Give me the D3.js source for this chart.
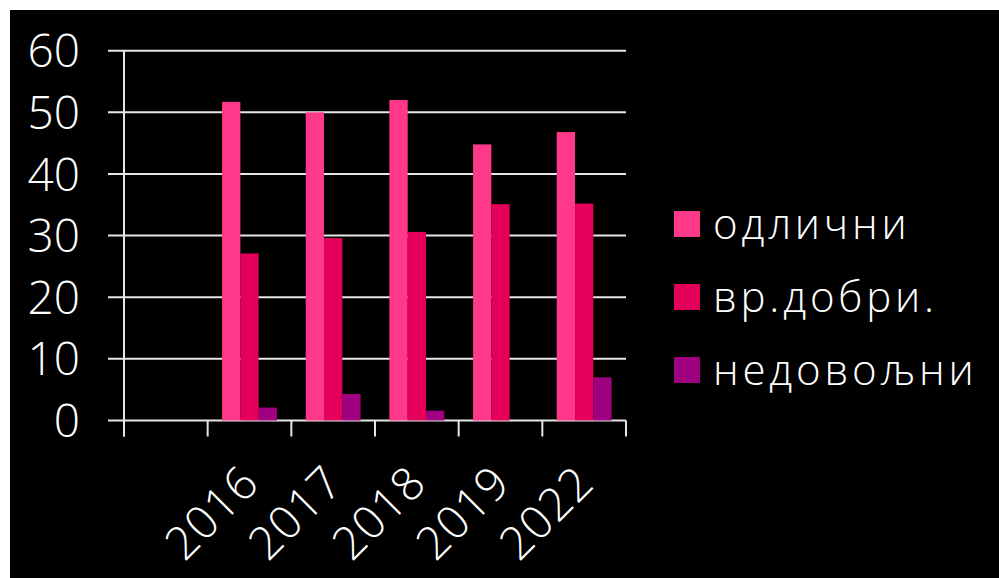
<!DOCTYPE html>
<html><head><meta charset="utf-8">
<script src="https://cdn.jsdelivr.net/npm/d3@7"></script>
<style>body{margin:0;background:#fff}svg{display:block}</style>
</head><body>
<script>
const categories = ["", "2016", "2017", "2018", "2019", "2022"];
const seriesNames = ["одлични", "вр.добри.", "недовољни"];
const odlicni   = [null, 51.7, 50.0, 52.0, 44.8, 46.8];
const vrDobri   = [null, 27.1, 29.6, 30.6, 35.1, 35.2];
const nedovoljni= [null, 2.1, 4.3, 1.6, 0, 7.0];
const yTicks = [0, 10, 20, 30, 40, 50, 60];
const colors = ["#FF3889", "#E4005A", "#9E0080"];

(function () {
const W = 999, H = 578;
const font = "'Open Sans', 'DejaVu Sans', sans-serif";
const svg = d3.select("body").append("svg").attr("width", W).attr("height", H);
svg.append("rect").attr("x", 10).attr("y", 10).attr("width", W - 10).attr("height", H - 10).attr("fill", "#000");

const pLeft = 124, pRight = 626, pTop = 50.7, pBottom = 420.5;
const x0 = d3.scaleBand().domain(categories).range([pLeft, pRight]).padding(0);
const bw = x0.bandwidth();
const x1 = d3.scaleBand().domain(seriesNames).range([bw * 0.172, bw * 0.828]).padding(0);
const y = d3.scaleLinear().domain([0, 60]).range([pBottom, pTop]);

svg.append("g").selectAll("line").data(yTicks).join("line")
  .attr("x1", pLeft - 16).attr("x2", pRight)
  .attr("y1", d => y(d)).attr("y2", d => y(d))
  .attr("stroke", "#e6e6e6").attr("stroke-width", 2);

svg.append("line").attr("x1", pLeft).attr("x2", pLeft).attr("y1", pTop).attr("y2", pBottom + 16)
  .attr("stroke", "#e6e6e6").attr("stroke-width", 2);

const bounds = categories.map(c => x0(c)).concat([pRight]);
svg.append("g").selectAll("line").data(bounds).join("line")
  .attr("x1", d => d).attr("x2", d => d).attr("y1", pBottom).attr("y2", pBottom + 16)
  .attr("stroke", "#e6e6e6").attr("stroke-width", 2);

svg.append("g").selectAll("text").data(yTicks).join("text")
  .attr("x", 80).attr("y", d => y(d)).attr("dy", "0.36em")
  .attr("text-anchor", "end").attr("fill", "#fff")
  .style("font-family", font).style("font-weight", 300).style("font-size", "46px")
  .text(d => d);

const series = [odlicni, vrDobri, nedovoljni];
series.forEach((vals, si) => {
  svg.append("g").selectAll("rect")
    .data(categories.map((c, i) => ({c, v: vals[i]})).filter(d => d.v !== null && d.v > 0))
    .join("rect")
    .attr("x", d => x0(d.c) + x1(seriesNames[si]))
    .attr("width", x1.bandwidth())
    .attr("y", d => y(d.v))
    .attr("height", d => y(0) - y(d.v))
    .attr("fill", colors[si]);
});

svg.append("g").selectAll("text").data(categories.filter(c => c !== "")).join("text")
  .attr("transform", c => `translate(${x0(c) + bw / 2 + 12},${pBottom + 65}) rotate(-45)`)
  .attr("text-anchor", "end").attr("fill", "#fff")
  .style("font-family", font).style("font-weight", 300).style("font-size", "46px")
  .style("letter-spacing", "1px")
  .text(c => c);

const lg = svg.append("g").attr("transform", "translate(674,211)");
seriesNames.forEach((n, i) => {
  lg.append("rect").attr("x", 0).attr("y", i * 73).attr("width", 26).attr("height", 26).attr("fill", colors[i]);
  lg.append("text").attr("x", 39).attr("y", i * 73 + 13).attr("dy", "0.36em")
    .attr("fill", "#fff").style("font-family", font).style("font-weight", 300)
    .style("font-size", "42px").style("letter-spacing", "3.8px").text(n);
});
})();
</script>
</body></html>
